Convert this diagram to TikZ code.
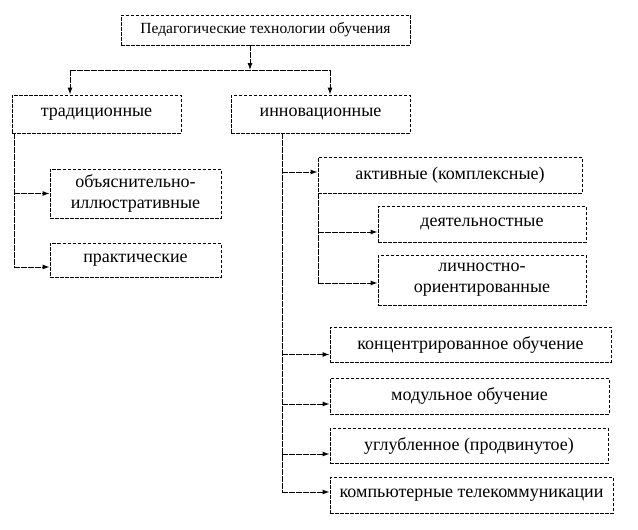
\documentclass[tikz,border=0pt]{standalone}
\usepackage{fontspec}
\setmainfont{Liberation Serif}
\usetikzlibrary{arrows.meta,calc}
\tikzset{
  box/.style={draw, dash pattern=on 3.5pt off 1.5pt, line width=0.9pt, align=center,
    inner sep=0pt, font=\fontsize{18}{21}\selectfont},
  link/.style={line width=1pt, dash pattern=on 6pt off 1pt},
  arr/.style={link, -{Latex[length=7pt,width=5pt]}}
}
\begin{document}
\begin{tikzpicture}[x=1pt,y=-1pt]
\useasboundingbox (0,0) rectangle (638,530);
\node[box, minimum width=289pt, minimum height=30pt, font=\fontsize{15.5}{18}\selectfont] (top) at (265.5,30) {Педагогические технологии обучения};
\node[box, minimum width=169pt, minimum height=38pt] (trad) at (96.5,114) {традиционные};
\node[box, minimum width=179pt, minimum height=38pt] (inn) at (320.5,114) {инновационные};
\node[box, minimum width=171pt, minimum height=49pt] (obj) at (135.5,193.5) {объяснительно-\\иллюстративные};
\node[box, minimum width=171pt, minimum height=34pt] (prak) at (135.5,260) {практические};
\node[box, minimum width=264pt, minimum height=36pt] (akt) at (450,175) {активные (комплексные)};
\node[box, minimum width=208pt, minimum height=36pt] (deyat) at (482,224) {деятельностные};
\node[box, minimum width=208pt, minimum height=50pt] (lichn) at (482,280) {личностно-\\ориентированные};
\node[box, minimum width=281pt, minimum height=35pt] (konc) at (470.5,344.5) {концентрированное обучение};
\node[box, minimum width=279pt, minimum height=36pt] (mod) at (469.5,396) {модульное обучение};
\node[box, minimum width=278pt, minimum height=35pt] (uglub) at (469,445.5) {углубленное (продвинутое)};
\node[box, minimum width=283pt, minimum height=36pt] (komp) at (471.5,495) {компьютерные телекоммуникации};
% top split
\coordinate (j) at (250,70);
\coordinate (jl) at (70,70);
\coordinate (jr) at (330,70);
\draw[arr] (top.south -| j) -- (j);
\draw[link] (jl) -- (jr);
\draw[arr] (jl) -- (jl |- trad.north);
\draw[arr] (jr) -- (jr |- inn.north);
% left trunk
\coordinate (lb) at (14,267);
\draw[link] (trad.south -| lb) -- (lb);
\draw[arr] (lb |- obj.west) -- (obj.west);
\draw[arr] (lb) -- (lb -| prak.west);
% right trunk
\coordinate (rb) at (282,492);
\draw[link] (inn.south -| rb) -- (rb);
\draw[arr] ($(rb |- akt.west)+(0,-3)$) -- ($(akt.west)+(0,-3)$);
\draw[arr] ($(rb |- konc.west)+(0,10)$) -- ($(konc.west)+(0,10)$);
\draw[arr] ($(rb |- mod.west)+(0,8)$) -- ($(mod.west)+(0,8)$);
\draw[arr] ($(rb |- uglub.west)+(0,8.5)$) -- ($(uglub.west)+(0,8.5)$);
\draw[arr] (rb) -- (rb -| komp.west);
% sub trunk
\coordinate (sb) at (318,283);
\draw[link] (akt.south -| sb) -- (sb);
\draw[arr] ($(sb |- deyat.west)+(0,8)$) -- ($(deyat.west)+(0,8)$);
\draw[arr] (sb) -- (sb -| lichn.west);
\end{tikzpicture}
\end{document}
